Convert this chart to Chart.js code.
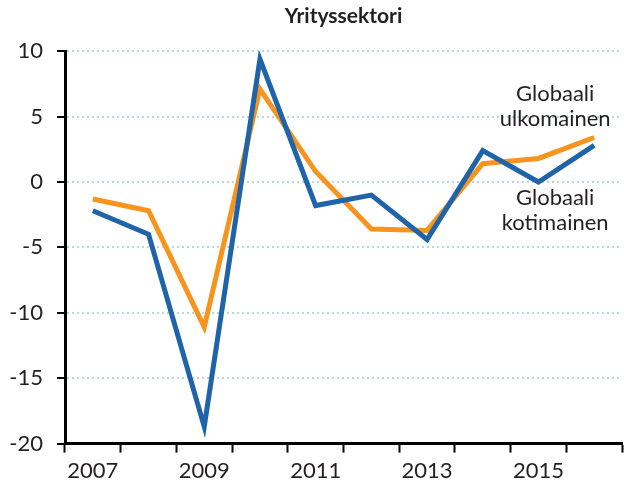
<!DOCTYPE html>
<html>
<head>
<meta charset="utf-8">
<script src="https://cdn.jsdelivr.net/npm/chart.js@4.4.0/dist/chart.umd.min.js"></script>
<style>
  body { margin: 0; background: #fff; }
  #wrap { width: 624px; height: 489px; }
</style>
</head>
<body>
<div id="wrap"><canvas id="myChart"></canvas></div>
<script>
var years = ['2007', '2008', '2009', '2010', '2011', '2012', '2013', '2014', '2015', '2016'];
var kotimainen = [-2.2, -4.0, -18.7, 9.4, -1.8, -1.0, -4.4, 2.4, 0.0, 2.8];
var ulkomainen = [-1.3, -2.2, -11.1, 7.1, 0.8, -3.6, -3.7, 1.4, 1.8, 3.4];
var yTicks = [-20, -15, -10, -5, 0, 5, 10];

// series labels, placed in data coordinates
var seriesLabels = [
    { lines: ['Globaali', 'ulkomainen'], x: 8.3, y: [6.7, 4.8] },
    { lines: ['Globaali', 'kotimainen'], x: 8.3, y: [-1.25, -3.15] }
];

var FONT = 'Lato, sans-serif';

var labelPlugin = {
    id: 'seriesLabels',
    afterDatasetsDraw: function (chart) {
        var ctx = chart.ctx;
        var xs = chart.scales.x, ys = chart.scales.y;
        ctx.save();
        ctx.font = '22px ' + FONT;
        ctx.fillStyle = '#231f20';
        ctx.textAlign = 'center';
        ctx.textBaseline = 'middle';
        seriesLabels.forEach(function (l) {
            l.lines.forEach(function (t, i) {
                ctx.fillText(t, xs.getPixelForValue(l.x), ys.getPixelForValue(l.y[i]));
            });
        });
        ctx.restore();
    }
};

var ctx = document.getElementById('myChart').getContext('2d');
var chart = new Chart(ctx, {
    type: 'line',
    data: {
        labels: years,
        datasets: [{
            label: 'Globaali kotimainen',
            data: kotimainen,
            borderColor: '#1f64a8',
            borderWidth: 5,
            pointRadius: 0,
            tension: 0,
            fill: false
        }, {
            label: 'Globaali ulkomainen',
            data: ulkomainen,
            borderColor: '#f7941e',
            borderWidth: 5,
            pointRadius: 0,
            tension: 0,
            fill: false
        }]
    },
    plugins: [labelPlugin],
    options: {
        responsive: true,
        maintainAspectRatio: false,
        animation: false,
        layout: { padding: { left: 0, right: 2, top: 0, bottom: 0 } },
        plugins: {
            legend: { display: false },
            tooltip: { enabled: false },
            title: {
                display: true,
                fullSize: false,
                text: 'Yrityssektori',
                color: '#231f20',
                font: { family: FONT, size: 21, weight: 'bold' },
                padding: { top: 4, bottom: 22 }
            }
        },
        scales: {
            x: {
                offset: true,
                grid: {
                    offset: true,
                    drawOnChartArea: false,
                    drawTicks: true,
                    tickLength: 9,
                    tickColor: '#000',
                    tickWidth: 2
                },
                border: { display: true, color: '#000', width: 3 },
                ticks: {
                    autoSkip: false,
                    maxRotation: 0,
                    padding: 5,
                    color: '#231f20',
                    font: { family: FONT, size: 22 },
                    callback: function (v, i) { return i % 2 === 0 ? years[i] : ''; }
                }
            },
            y: {
                min: -20,
                max: 10,
                afterBuildTicks: function (scale) {
                    scale.ticks = yTicks.map(function (v) { return { value: v }; });
                },
                afterFit: function (scale) { scale.width = 65; },
                grid: {
                    color: function (c) { return c.tick.value === -20 ? 'rgba(0,0,0,0)' : '#b9d7e3'; },
                    lineWidth: 2,
                    tickColor: '#000',
                    tickLength: 8,
                    tickWidth: 2,
                    tickBorderDash: []
                },
                border: { display: true, color: '#000', width: 3, dash: [2, 3] },
                ticks: {
                    padding: 14,
                    color: '#231f20',
                    font: { family: FONT, size: 22 }
                }
            }
        }
    }
});
</script>
</body>
</html>
